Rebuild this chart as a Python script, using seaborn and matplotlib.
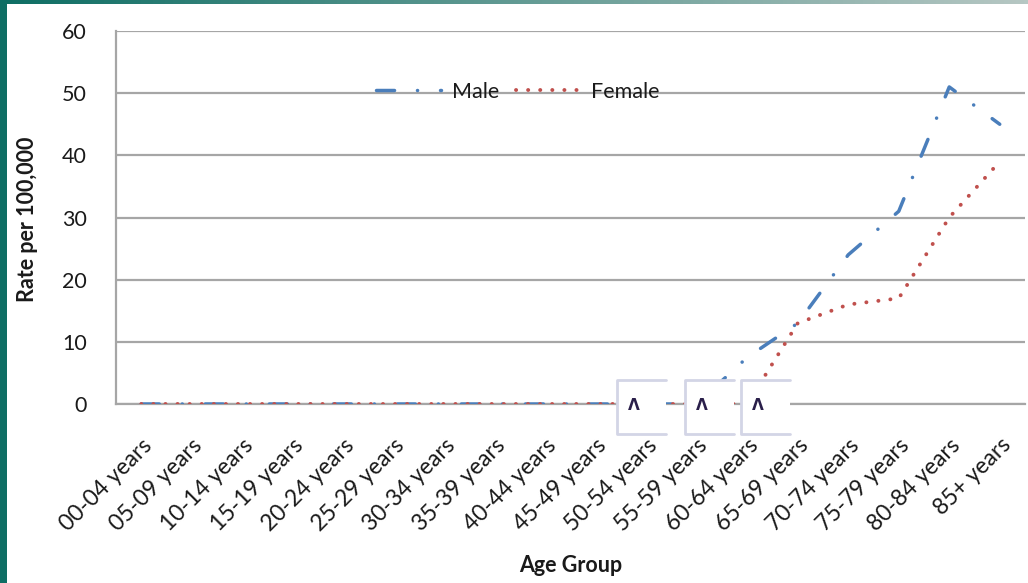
import matplotlib
matplotlib.use("Agg")
import numpy as np
import pandas as pd
import matplotlib.pyplot as plt
from matplotlib.patches import Rectangle
from matplotlib.lines import Line2D
from matplotlib.colors import LinearSegmentedColormap
import seaborn as sns

# data
age_groups = ["00-04 years", "05-09 years", "10-14 years", "15-19 years",
              "20-24 years", "25-29 years", "30-34 years", "35-39 years",
              "40-44 years", "45-49 years", "50-54 years", "55-59 years",
              "60-64 years", "65-69 years", "70-74 years", "75-79 years",
              "80-84 years", "85+ years"]
male_rate = [0, 0, 0, 0, 0, 0, 0, 0, 0, 0, 0, 0, 7.5, 13, 24, 31, 51, 45]
female_rate = [0, 0, 0, 0, 0, 0, 0, 0, 0, 0, 0, 0, 0, 13, 16, 17, 30, 39]
y_ticks = [0, 10, 20, 30, 40, 50, 60]

sns.set_style("white")
plt.rcParams["font.family"] = ["Lato", "DejaVu Sans"]
plt.rcParams["lines.scale_dashes"] = False

df = pd.DataFrame({"pos": np.arange(len(age_groups)),
                   "age": age_groups,
                   "Male": male_rate,
                   "Female": female_rate})

W, H = 1028, 583
fig = plt.figure(figsize=(W / 100, H / 100), dpi=100)
fig.patch.set_facecolor("white")
ax = fig.add_axes([116 / W, 1 - 404 / H, (1025 - 116) / W, (404 - 31) / H])

grey = "#A6A6A6"
text_col = "#1a1a1a"
fs = 15.5

sns.lineplot(data=df, x="pos", y="Male", ax=ax, color="#4A7EBB", lw=2.5,
             label="Male", zorder=3)
sns.lineplot(data=df, x="pos", y="Female", ax=ax, color="#C0504D", lw=2.8,
             label="Female", zorder=3)
male_line, female_line = ax.lines[0], ax.lines[1]
male_line.set_dashes((13, 16.5, 0.1, 16.5))
male_line.set_dash_capstyle("round")
female_line.set_dashes((0.1, 8.6))
female_line.set_dash_capstyle("round")

ax.set_xlim(-0.5, len(age_groups) - 0.5)
ax.set_ylim(0, 60)
ax.set_yticks(y_ticks)
ax.set_xticks(df["pos"])
ax.set_xticklabels(age_groups, rotation=45, ha="right", va="top",
                   rotation_mode="anchor")
ax.set_xticks(np.arange(-0.5, len(age_groups)), minor=True)
ax.tick_params(axis="x", which="major", length=0, pad=22, labelsize=16.5,
               labelcolor=text_col)
ax.tick_params(axis="x", which="minor", length=7, width=1.5, color=grey,
               direction="out")
ax.tick_params(axis="y", length=9, width=1.5, color=grey, pad=12,
               labelsize=fs, labelcolor=text_col)
ax.yaxis.grid(True, color=grey, lw=1.6)
ax.set_axisbelow(True)
for s in ["top", "right"]:
    ax.spines[s].set_visible(False)
for s in ["left", "bottom"]:
    ax.spines[s].set_color(grey)
    ax.spines[s].set_linewidth(1.6)
ax.set_xlabel("")
ax.set_ylabel("")

leg = ax.legend(loc="center", bbox_to_anchor=(518 / W, 1 - 92 / H),
                bbox_transform=fig.transFigure, ncol=2, frameon=False,
                fontsize=fs, handlelength=3.0, handletextpad=0.5,
                columnspacing=0.8)
for t in leg.get_texts():
    t.set_color(text_col)

fig.text(28 / W, 1 - 219 / H, "Rate per 100,000", rotation=90, ha="center",
         va="center", fontsize=fs, fontweight="bold", color=text_col)
fig.text(571 / W, 1 - 566 / H, "Age Group", ha="center", va="center",
         fontsize=fs, fontweight="bold", color=text_col)

# small placeholder boxes sitting over the baseline
for x0 in [617, 685, 741]:
    fig.patches.append(Rectangle((x0 / W, 1 - 434 / H), 49 / W, 54 / H,
                                 transform=fig.transFigure, facecolor="white",
                                 edgecolor="none", zorder=5))
    xs = [(x0 + 49) / W, x0 / W, x0 / W, (x0 + 49) / W]
    ys = [1 - 380 / H, 1 - 380 / H, 1 - 434 / H, 1 - 434 / H]
    fig.lines.append(Line2D(xs, ys, transform=fig.transFigure,
                            color="#D3D5E6", lw=2, zorder=6))
    fig.text((x0 + 17) / W, 1 - 405 / H, "Λ", ha="center", va="center",
             fontsize=11, fontweight="bold", color="#2a1f4a", zorder=7,
             family="DejaVu Sans")

# slide frame: teal strip on the left and gradient bar on top
fig.patches.append(Rectangle((0, 0), 7 / W, 1, transform=fig.transFigure,
                             facecolor="#0E6E64", edgecolor="none", zorder=8))
bar = fig.add_axes([0, 1 - 4 / H, 1, 4 / H])
cmap = LinearSegmentedColormap.from_list("frame", ["#0E6E64", "#B6C7C3"])
bar.imshow(np.linspace(0, 1, 256)[None, :], aspect="auto", cmap=cmap)
bar.axis("off")

fig.savefig("out.png", dpi=100)
